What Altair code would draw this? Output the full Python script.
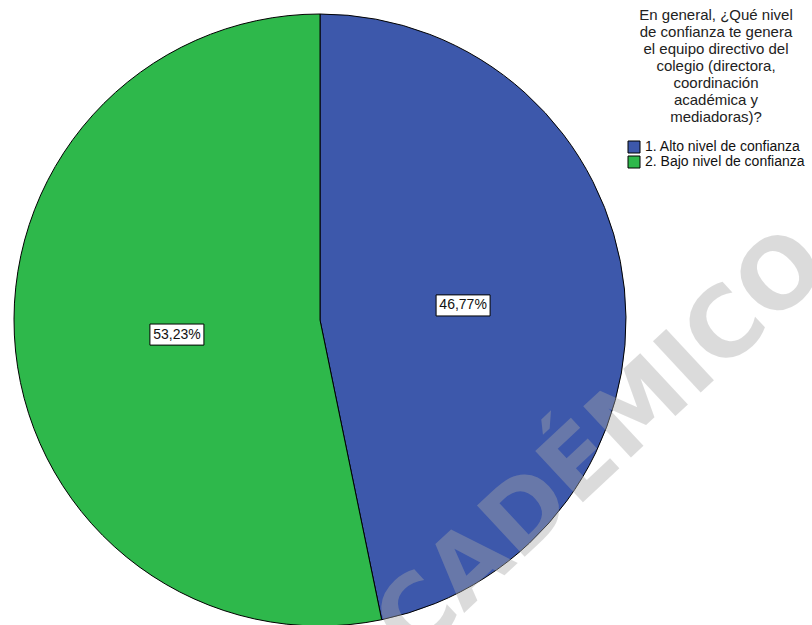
import altair as alt
import pandas as pd

categories = ["1. Alto nivel de confianza", "2. Bajo nivel de confianza"]
percents = [46.77, 53.23]
pct_labels = ["46,77%", "53,23%"]
order = [1, 2]
colors = ["#3d58ab", "#2eb84b"]
legend_title = [
    "En general, ¿Qué nivel",
    "de confianza te genera",
    "el equipo directivo del",
    "colegio (directora,",
    "coordinación",
    "académica y",
    "mediadoras)?",
]
watermark = ["ACADÉMICO"]

df = pd.DataFrame({"cat": categories, "pct": percents, "lab": pct_labels, "ord": order})

FONT = "Liberation Sans"
R = 306
LABEL_FRAC = 0.47

color = alt.Color(
    "cat:N",
    scale=alt.Scale(domain=categories, range=colors),
    legend=alt.Legend(
        title=legend_title,
        orient="none",
        legendX=627,
        legendY=8,
        titleFont=FONT,
        titleFontSize=15,
        titleFontWeight="normal",
        titleColor="#222222",
        titleLineHeight=17,
        titleAlign="center",
        titleAnchor="middle",
        titlePadding=15,
        labelFont=FONT,
        labelFontSize=14,
        labelColor="#111111",
        labelOffset=4,
        symbolType="square",
        symbolSize=144,
        symbolStrokeColor="black",
        symbolStrokeWidth=1,
        symbolOpacity=1,
        rowPadding=-1,
    ),
)

pie = alt.Chart(df).mark_arc(outerRadius=R, stroke="black", strokeWidth=1).encode(
    theta=alt.Theta("pct:Q", stack=True),
    color=color,
    order=alt.Order("ord:Q"),
    x=alt.value(320),
    y=alt.value(320),
)

base = alt.Chart(df).transform_window(
    cum="sum(pct)", sort=[alt.SortField("ord")]
).transform_calculate(
    mid="(datum.cum - datum.pct/2) / 100 * 2 * PI",
).transform_calculate(
    lx=f"{LABEL_FRAC} * sin(datum.mid)",
    ly=f"{LABEL_FRAC} * cos(datum.mid)",
)

xs = alt.X("lx:Q", scale=alt.Scale(domain=[-1, 1], range=[320 - R, 320 + R]), axis=None)
ys = alt.Y("ly:Q", scale=alt.Scale(domain=[-1, 1], range=[320 + R, 320 - R]), axis=None)

box = base.mark_point(
    shape="M-1,-0.39L1,-0.39L1,0.39L-1,0.39Z",
    filled=True,
    fill="white",
    stroke="black",
    strokeWidth=1,
    size=54 * 54,
    opacity=1,
).encode(x=xs, y=ys)

txt = base.mark_text(font=FONT, fontSize=14, color="#111111", baseline="middle", align="center").encode(
    x=xs, y=ys, text="lab:N"
)

wm = alt.Chart(pd.DataFrame({"wm": watermark})).mark_text(
    font="DejaVu Sans",
    fontSize=96,
    fontWeight="bold",
    angle=317,
    align="center",
    baseline="middle",
    fill="#a8a8a8",
    opacity=0.4,
).encode(text="wm:N", x=alt.value(575), y=alt.value(470))

chart = (
    alt.layer(pie, box, txt, wm)
    .properties(width=812, height=625, padding=0, autosize=alt.AutoSizeParams(type="none"))
    .configure_view(stroke=None)
)

chart.save("out.html", embed_options={"renderer": "svg", "actions": False})
